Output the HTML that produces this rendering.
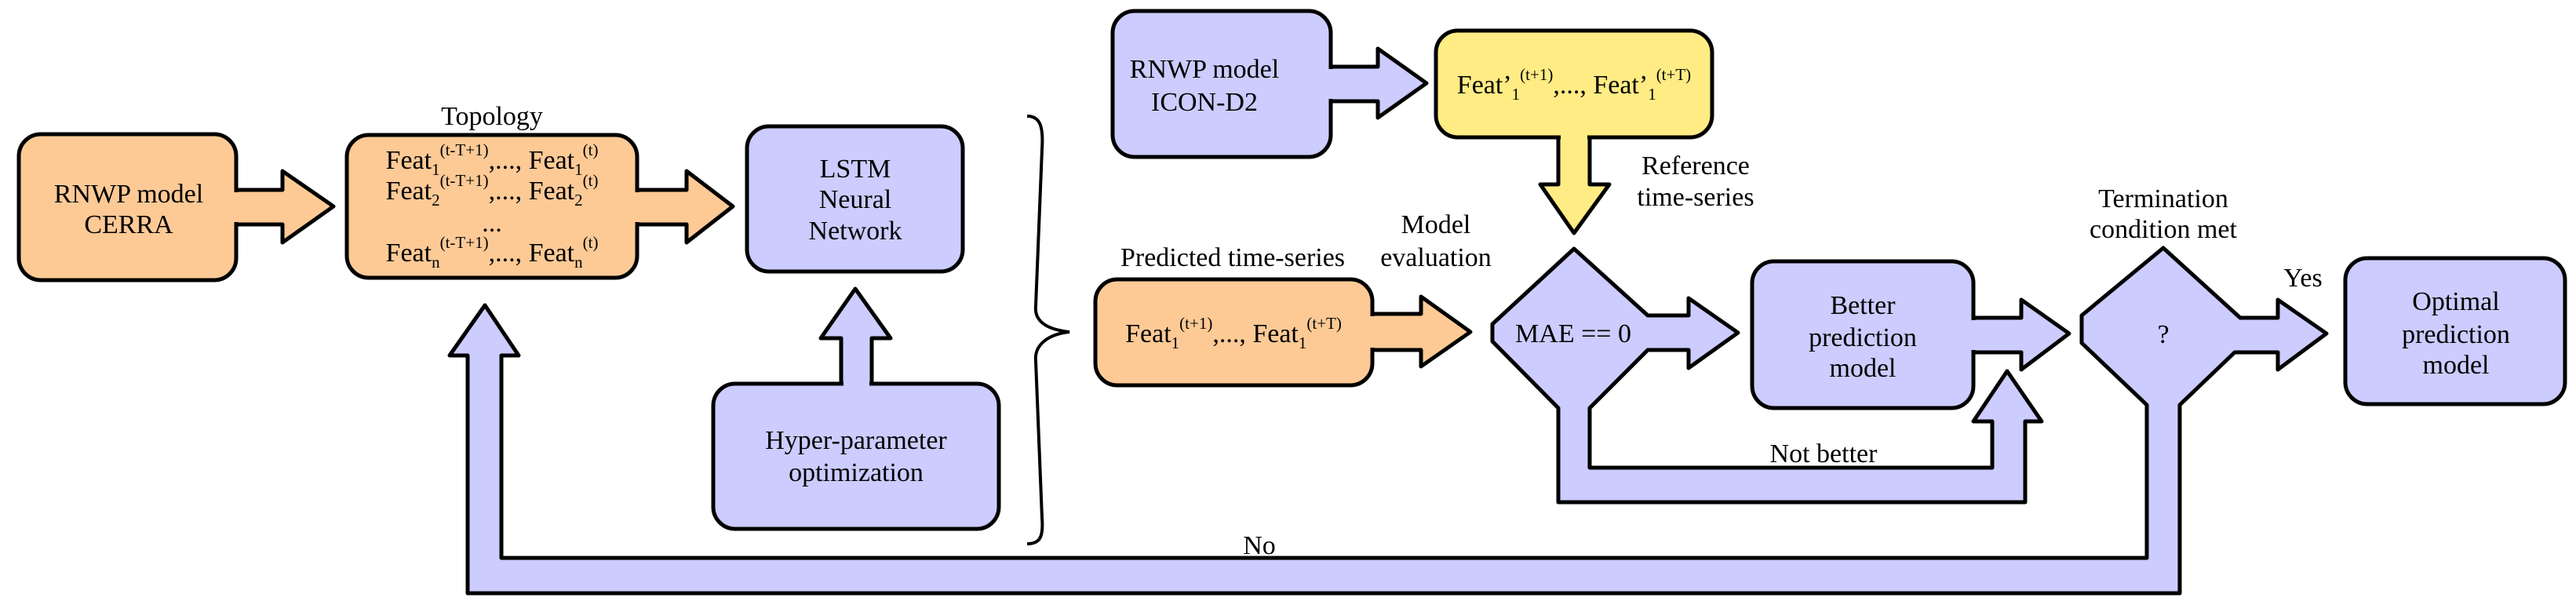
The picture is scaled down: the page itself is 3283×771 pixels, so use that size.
<!DOCTYPE html>
<html><head><meta charset="utf-8"><style>
html,body{margin:0;padding:0;background:#fff;}
svg{display:block;}
svg text{font-family:"Liberation Serif","Times New Roman",Times,"DejaVu Serif",serif;font-size:34px;fill:#000;}
</style></head><body>
<svg width="3283" height="771" viewBox="0 0 3283 771" xmlns="http://www.w3.org/2000/svg">
<g stroke="#000" stroke-width="5" stroke-linejoin="round">
<polygon fill="#ccccff" points="2757,316 2855,405 2903,405 2903,382 2965,425 2903,471 2903,449 2848,449 2778,516 2778,756 596,756 596,453 573,453 618,389 661,453 639,453 639,711 2736,711 2736,516 2653,437 2653,402"/>
<polygon fill="#ccccff" points="2006,317 2100,402 2152,402 2152,380 2215,424 2152,469 2152,446 2100,446 2026,520 2026,596 2539,596 2539,537 2515,537 2558,473 2602,537 2581,537 2581,640 1986,640 1986,520 1902,435 1902,413"/>
<polygon fill="#fdca96" points="296,242 360,242 360,218 425,263 360,309 360,286 296,286"/>
<polygon fill="#fdca96" points="806,242 875,242 875,218 934,263 875,309 875,286 806,286"/>
<polygon fill="#ccccff" points="1072,494 1072,431 1046,431 1090,368 1135,431 1111,431 1111,494"/>
<polygon fill="#ccccff" points="1691,85 1756,85 1756,62 1818,106 1756,150 1756,129 1691,129"/>
<polygon fill="#ffec84" points="1986,170 1986,235 1963,235 2006,297 2051,235 2026,235 2026,170"/>
<polygon fill="#fdca96" points="1744,400 1811,400 1811,378 1874,423 1811,467 1811,446 1744,446"/>
<polygon fill="#ccccff" points="2510,405 2576,405 2576,382 2637,425 2576,471 2576,449 2510,449"/>
<rect x="24" y="171" width="277" height="186" rx="28" fill="#fdca96"/>
<rect x="442" y="172" width="370" height="182" rx="28" fill="#fdca96"/>
<rect x="952" y="161" width="275" height="185" rx="28" fill="#ccccff"/>
<rect x="909" y="489" width="364" height="185" rx="28" fill="#ccccff"/>
<rect x="1418" y="14" width="278" height="186" rx="28" fill="#ccccff"/>
<rect x="1830" y="39" width="352" height="136" rx="28" fill="#ffec84"/>
<rect x="1396" y="356" width="353" height="135" rx="28" fill="#fdca96"/>
<rect x="2233" y="333" width="282" height="187" rx="28" fill="#ccccff"/>
<rect x="2989" y="329" width="280" height="186" rx="28" fill="#ccccff"/>
</g>
<g stroke="none">
<rect x="296" y="245" width="10" height="38" fill="#fdca96"/>
<rect x="806" y="245" width="12" height="38" fill="#fdca96"/>
<rect x="1075" y="484" width="33" height="12" fill="#ccccff"/>
<rect x="1690" y="88" width="10" height="38" fill="#ccccff"/>
<rect x="1989" y="170" width="34" height="10" fill="#ffec84"/>
<rect x="1744" y="403" width="10" height="40" fill="#fdca96"/>
<rect x="2510" y="408" width="10" height="38" fill="#ccccff"/>
</g>
<path d="M1309,148 C1325,148 1330,160 1328,190 L1320,390 C1318,410 1335,420 1363,423 C1335,426 1318,440 1320,460 L1328,660 C1330,685 1325,693 1309,693" fill="none" stroke="#000" stroke-width="4"/>
<g text-anchor="middle">
<text x="164" y="258">RNWP model</text>
<text x="164" y="297">CERRA</text>
<text x="627" y="159">Topology</text>
<text x="627" y="215">Feat<tspan font-size="21" dy="8">1</tspan><tspan font-size="21" dy="-25">(t-T+1)</tspan><tspan dy="17">,..., Feat</tspan><tspan font-size="21" dy="8">1</tspan><tspan font-size="21" dy="-25">(t)</tspan></text>
<text x="627" y="254">Feat<tspan font-size="21" dy="8">2</tspan><tspan font-size="21" dy="-25">(t-T+1)</tspan><tspan dy="17">,..., Feat</tspan><tspan font-size="21" dy="8">2</tspan><tspan font-size="21" dy="-25">(t)</tspan></text>
<text x="627" y="295">...</text>
<text x="627" y="333">Feat<tspan font-size="21" dy="8">n</tspan><tspan font-size="21" dy="-25">(t-T+1)</tspan><tspan dy="17">,..., Feat</tspan><tspan font-size="21" dy="8">n</tspan><tspan font-size="21" dy="-25">(t)</tspan></text>
<text x="1090" y="226">LSTM</text>
<text x="1090" y="265">Neural</text>
<text x="1090" y="305">Network</text>
<text x="1091" y="572">Hyper-parameter</text>
<text x="1091" y="613">optimization</text>
<text x="1535" y="99">RNWP model</text>
<text x="1535" y="141">ICON-D2</text>
<text x="2006" y="119">Feat’<tspan font-size="21" dy="8">1</tspan><tspan font-size="21" dy="-25">(t+1)</tspan><tspan dy="17">,..., Feat’</tspan><tspan font-size="21" dy="8">1</tspan><tspan font-size="21" dy="-25">(t+T)</tspan></text>
<text x="2161" y="222">Reference</text>
<text x="2161" y="262">time-series</text>
<text x="1830" y="297">Model</text>
<text x="1830" y="339">evaluation</text>
<text x="1571" y="339">Predicted time-series</text>
<text x="1572" y="436">Feat<tspan font-size="21" dy="8">1</tspan><tspan font-size="21" dy="-25">(t+1)</tspan><tspan dy="17">,..., Feat</tspan><tspan font-size="21" dy="8">1</tspan><tspan font-size="21" dy="-25">(t+T)</tspan></text>
<text x="2005" y="436">MAE == 0</text>
<text x="2374" y="400">Better</text>
<text x="2374" y="441">prediction</text>
<text x="2374" y="480">model</text>
<text x="2324" y="589">Not better</text>
<text x="2757" y="264">Termination</text>
<text x="2757" y="303">condition met</text>
<text x="2757" y="437">?</text>
<text x="2935" y="365">Yes</text>
<text x="3130" y="395">Optimal</text>
<text x="3130" y="437">prediction</text>
<text x="3130" y="476">model</text>
<text x="1605" y="706">No</text>
</g>
</svg>
</body></html>
